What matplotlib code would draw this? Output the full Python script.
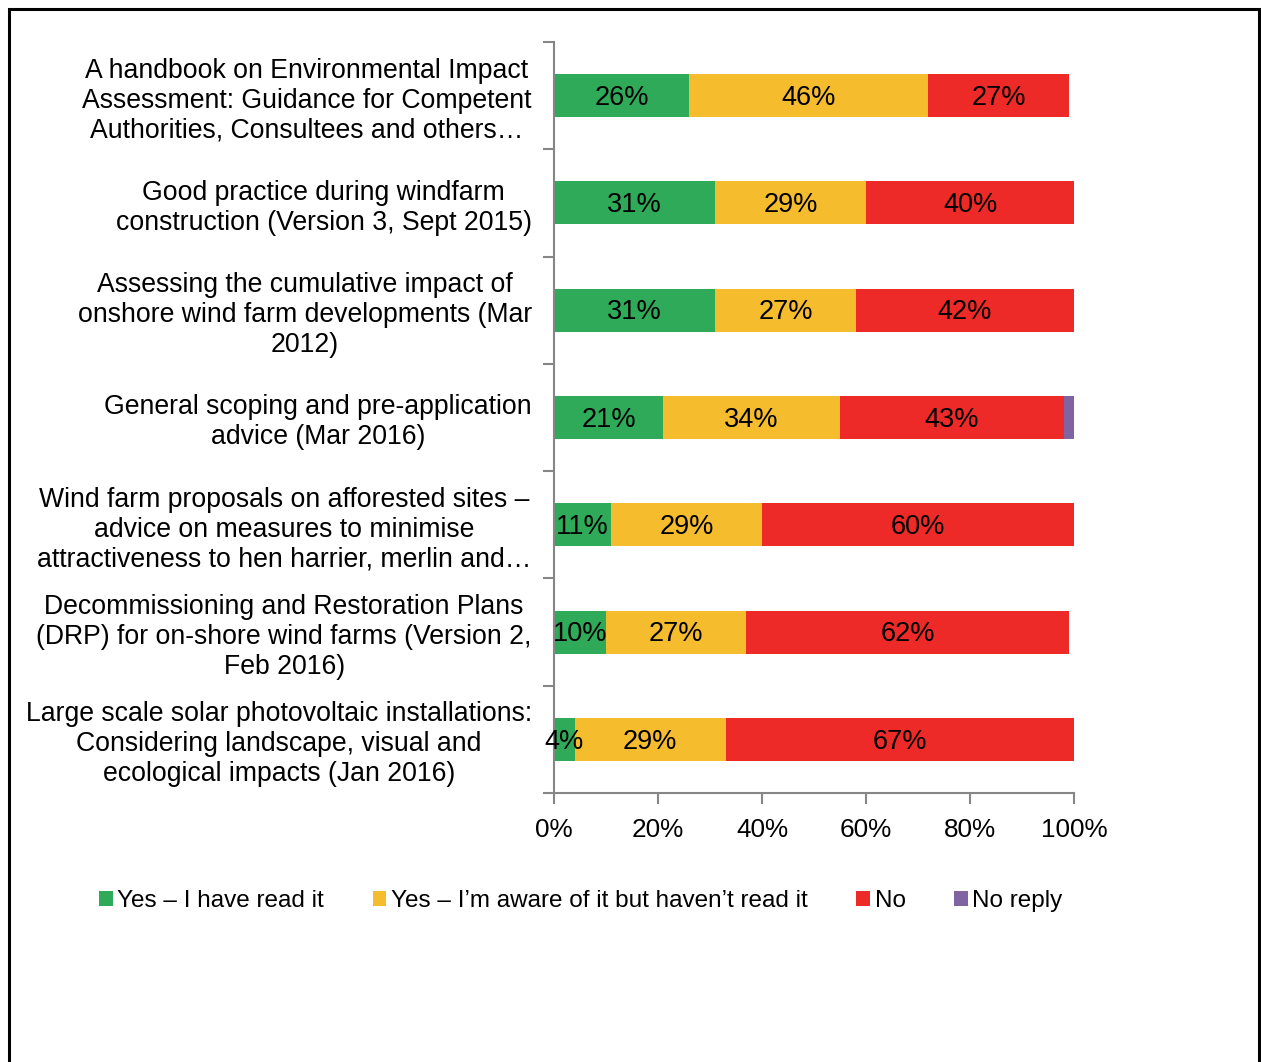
import matplotlib
matplotlib.use("Agg")
import matplotlib.pyplot as plt
from matplotlib.patches import Rectangle
import numpy as np

plt.rcParams['font.family'] = ['Liberation Sans', 'DejaVu Sans']

categories = [
    "A handbook on Environmental Impact\nAssessment: Guidance for Competent\nAuthorities, Consultees and others…",
    "Good practice during windfarm\nconstruction (Version 3, Sept 2015)",
    "Assessing the cumulative impact of\nonshore wind farm developments (Mar\n2012)",
    "General scoping and pre-application\nadvice (Mar 2016)",
    "Wind farm proposals on afforested sites –\nadvice on measures to minimise\nattractiveness to hen harrier, merlin and…",
    "Decommissioning and Restoration Plans\n(DRP) for on-shore wind farms (Version 2,\nFeb 2016)",
    "Large scale solar photovoltaic installations:\nConsidering landscape, visual and\necological impacts (Jan 2016)",
]
series_names = ["Yes – I have read it", "Yes – I’m aware of it but haven’t read it", "No", "No reply"]
yes_read = [26, 31, 31, 21, 11, 10, 4]
yes_aware = [46, 29, 27, 34, 29, 27, 29]
no = [27, 40, 42, 43, 60, 62, 67]
no_reply = [0, 0, 0, 2, 0, 0, 0.5]
colors = ["#2EAA58", "#F5BC2D", "#EE2A29", "#8064A2"]
xticks = [0, 20, 40, 60, 80, 100]
xtick_labels = ["0%", "20%", "40%", "60%", "80%", "100%"]

fig = plt.figure(figsize=(12.61, 10.62), dpi=100)
ax = fig.add_axes([554/1261, 1-793/1062, 520/1261, 751/1062])

y = np.arange(len(categories))
left = np.zeros(len(categories))
all_series = [yes_read, yes_aware, no, no_reply]
for i, (vals, name, c) in enumerate(zip(all_series, series_names, colors)):
    vals = np.array(vals, dtype=float)
    ax.barh(y, vals, left=left, height=0.4, color=c, label=name, linewidth=0)
    if i < 3:
        for yi, l, v in zip(y, left, vals):
            ax.text(l + v/2, yi + 0.02, f"{int(round(v))}%", ha='center', va='center',
                    fontsize=19.5, color='black')
    left += vals

ax.set_ylim(len(categories) - 0.5, -0.5)
ax.set_xlim(0, 100)
ax.set_yticks(y)
ax.set_yticklabels(categories, fontsize=19.2, multialignment='center', linespacing=1.2)
ax.set_yticks(np.arange(-0.5, len(categories), 1), minor=True)
ax.tick_params(axis='y', which='major', length=0, pad=16)
ax.tick_params(axis='y', which='minor', length=8, color='#868686', width=1.5, direction='out')
ax.set_xticks(xticks)
ax.set_xticklabels(xtick_labels, fontsize=18.8)
ax.tick_params(axis='x', length=8, color='#868686', width=1.5, direction='out', pad=10)
for s in ['top', 'right']:
    ax.spines[s].set_visible(False)
for s in ['left', 'bottom']:
    ax.spines[s].set_color('#868686')
    ax.spines[s].set_linewidth(1.5)

handles, labels = ax.get_legend_handles_labels()
fig.legend(handles, labels, loc='center', bbox_to_anchor=(581/1261, 1-901/1062),
           ncol=4, frameon=False, fontsize=17.5, handlelength=0.55, handleheight=0.55,
           handletextpad=0.2, columnspacing=2.0)

fig.patches.append(Rectangle((9/1261, -0.05), 1250/1261, 1.05 - 9/1062,
                             transform=fig.transFigure, fill=False,
                             edgecolor='black', linewidth=2.2))

fig.savefig("out.png", dpi=100)
